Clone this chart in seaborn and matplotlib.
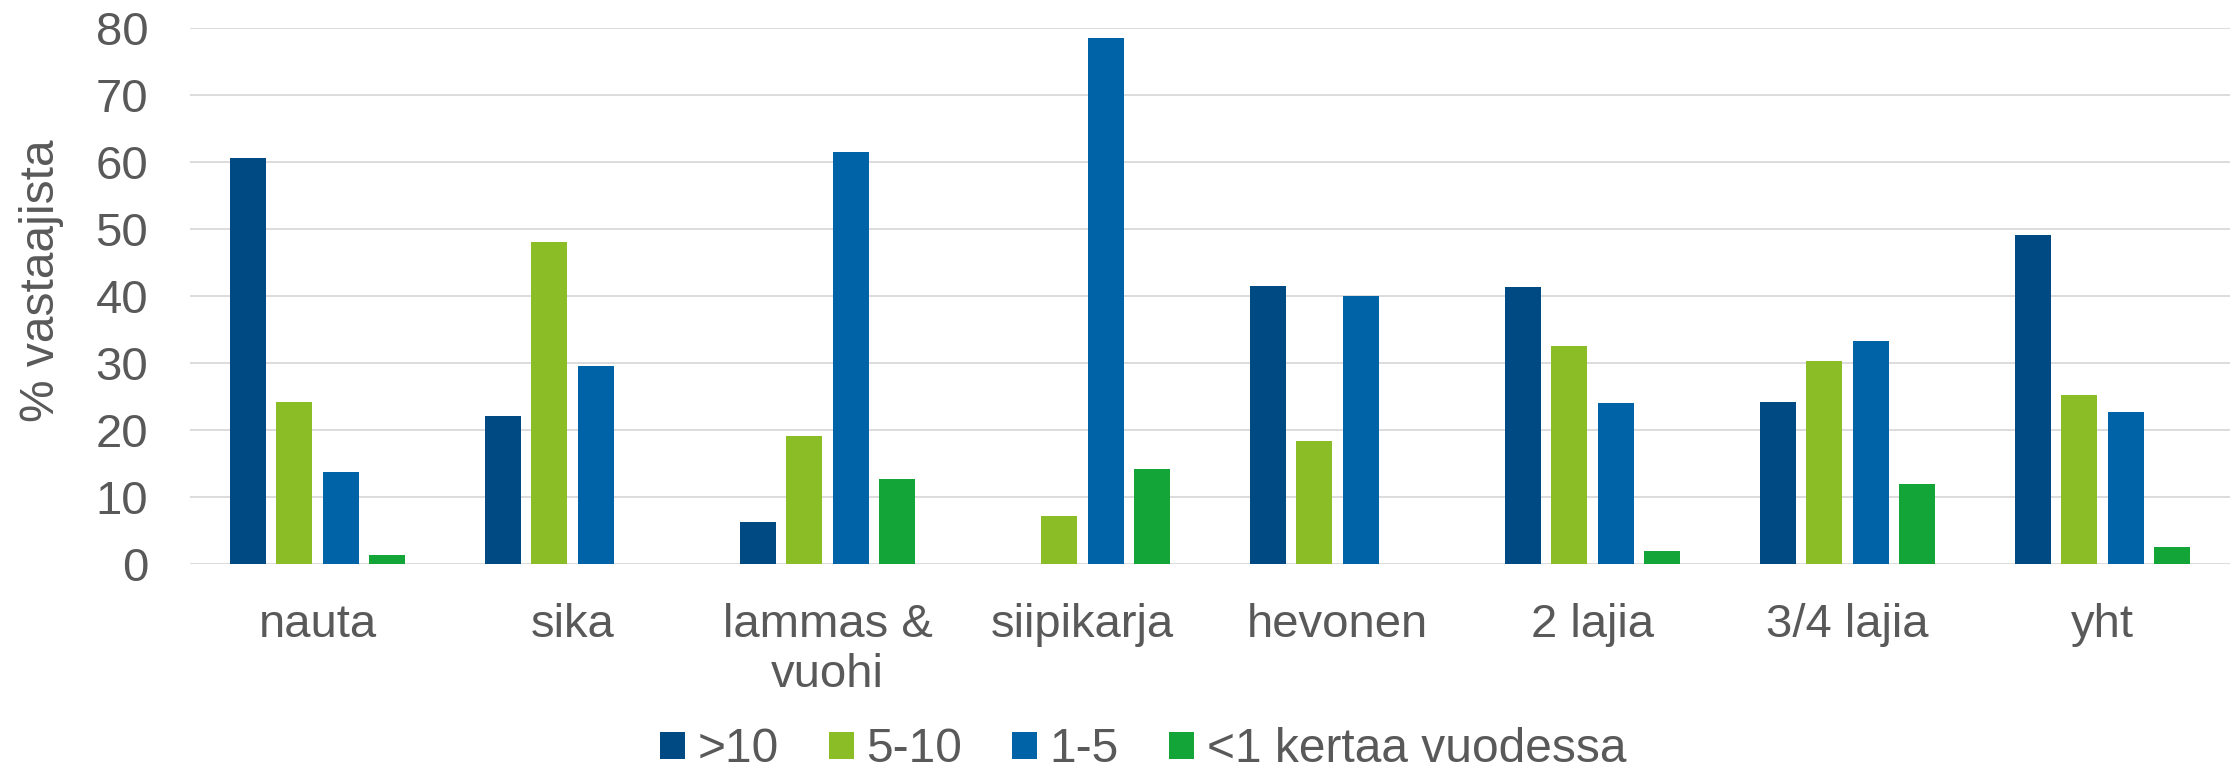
import matplotlib
matplotlib.use("Agg")
import matplotlib.pyplot as plt
import seaborn as sns
import pandas as pd

# data
lajit = ["nauta", "sika", "lammas &\nvuohi", "siipikarja", "hevonen", "2 lajia", "3/4 lajia", "yht"]
sarjat = [">10", "5-10", "1-5", "<1 kertaa vuodessa"]
yli_10 = [60.7, 22.1, 6.3, 0.0, 41.5, 41.3, 24.2, 49.2]
v5_10 = [24.2, 48.1, 19.1, 7.1, 18.3, 32.6, 30.3, 25.3]
v1_5 = [13.7, 29.6, 61.6, 78.5, 40.0, 24.0, 33.3, 22.7]
alle_1 = [1.3, 0.0, 12.7, 14.2, 0.0, 1.9, 12.0, 2.5]
varit = ["#004A83", "#8BBD26", "#0062A7", "#13A538"]

rows = []
for sarja, arvot in zip(sarjat, [yli_10, v5_10, v1_5, alle_1]):
    for laji, arvo in zip(lajit, arvot):
        rows.append({"laji": laji, "sarja": sarja, "arvo": arvo})
df = pd.DataFrame(rows)

sns.set_theme(style="white")
plt.rcParams["font.family"] = ["Liberation Sans", "DejaVu Sans"]
teksti = "#595959"
koko = 34

fig = plt.figure(figsize=(22.3, 7.74), dpi=100)
ax = fig.add_axes([190 / 2230, 1 - 564 / 774, 1 - 190 / 2230, (564 - 28.3) / 774])

sns.barplot(data=df, x="laji", y="arvo", hue="sarja", hue_order=sarjat,
            palette=varit, saturation=1, width=0.724, gap=0.22,
            linewidth=0, ax=ax)

ax.set_ylim(0, 80)
ax.set_yticks(range(0, 81, 10))
ax.set_xlim(-0.5, len(lajit) - 0.5)
ax.grid(axis="y", color="#D9D9D9", linewidth=1.3)
ax.set_axisbelow(True)
for s in ax.spines.values():
    s.set_visible(False)

ax.tick_params(axis="both", length=0, labelsize=koko, labelcolor=teksti)
ax.tick_params(axis="y", pad=30)
ax.tick_params(axis="x", pad=28)
for t in ax.get_xticklabels():
    t.set_linespacing(1.17)

ax.set_xlabel("")
ax.set_ylabel("% vastaajista", fontsize=34.5, color=teksti)
ax.yaxis.set_label_coords(-0.062, 0.528)

handles, labels = ax.get_legend_handles_labels()
ax.get_legend().remove()
fig.legend(handles, labels, loc="center", bbox_to_anchor=(1143 / 2230, 24 / 774),
           ncol=4, frameon=False, fontsize=34.5, labelcolor=teksti,
           handlelength=0.52, handleheight=0.52, handletextpad=0.26,
           columnspacing=1.05, borderpad=0, borderaxespad=0)

fig.savefig("out.png", dpi=100)
